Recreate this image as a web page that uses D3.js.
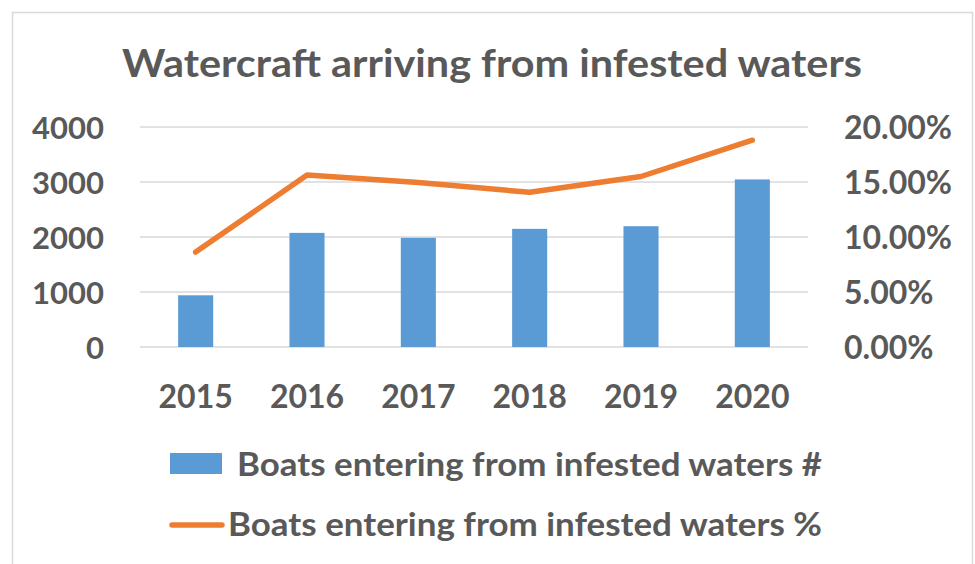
<!DOCTYPE html>
<html>
<head>
<meta charset="utf-8">
<script src="https://cdn.jsdelivr.net/npm/d3@7/dist/d3.min.js"></script>
<style>
  html, body { margin: 0; padding: 0; background: #fff; }
  svg { display: block; }
  text { font-family: Lato, "Open Sans", sans-serif; font-weight: bold; fill: #595959; }
</style>
</head>
<body>
<svg id="chart" width="975" height="564"></svg>
<script>
const years = ["2015", "2016", "2017", "2018", "2019", "2020"];
const boatsCount = [940, 2075, 1985, 2148, 2196, 3047];
const boatsPct = [0.0863, 0.1563, 0.1496, 0.1406, 0.1550, 0.1880];
const leftTicks = [0, 1000, 2000, 3000, 4000];
const rightTicks = [0, 0.05, 0.10, 0.15, 0.20];
const titleText = "Watercraft arriving from infested waters";
const seriesNames = ["Boats entering from infested waters #", "Boats entering from infested waters %"];

const svg = d3.select("#chart");
const m = { left: 140, right: 808, top: 127, bottom: 347 };

// outer frame
svg.append("rect").attr("x", 12.5).attr("y", 12.5).attr("width", 960).attr("height", 570)
  .attr("fill", "none").attr("stroke", "#D9D9D9").attr("stroke-width", 1.5);

const x = d3.scaleBand().domain(years).range([m.left, m.right]).paddingInner(0.685).paddingOuter(0.3425);
const yL = d3.scaleLinear().domain([0, 4000]).range([m.bottom, m.top]);
const yR = d3.scaleLinear().domain([0, 0.20]).range([m.bottom, m.top]);

// gridlines
svg.append("g").selectAll("line").data(leftTicks).join("line")
  .attr("x1", m.left).attr("x2", m.right)
  .attr("y1", d => yL(d)).attr("y2", d => yL(d))
  .attr("stroke", "#D9D9D9").attr("stroke-width", 1.5);

function styleText(g, size) {
  g.select(".domain").remove();
  g.selectAll("text").attr("font-size", size).attr("fill", "#595959")
    .attr("font-family", "Lato, sans-serif").attr("font-weight", "bold");
}

// left axis labels
const leftAxis = d3.axisLeft(yL).tickValues(leftTicks).tickSize(0).tickPadding(0).tickFormat(d3.format("d"));
const gL = svg.append("g").attr("transform", `translate(104,0)`).call(leftAxis);
styleText(gL, 31);
gL.selectAll("text").attr("dy", "0.36em");

// right axis labels
const rightAxis = d3.axisRight(yR).tickValues(rightTicks).tickSize(0).tickPadding(0).tickFormat(d3.format(".2%"));
const gR = svg.append("g").attr("transform", `translate(844,0)`).call(rightAxis);
styleText(gR, 32);
gR.selectAll("text").attr("dy", "0.36em");

// x axis labels
const xAxis = d3.axisBottom(x).tickSize(0).tickPadding(0);
const gX = svg.append("g").attr("transform", `translate(0,${m.bottom})`).call(xAxis);
styleText(gX, 32);
gX.selectAll("text").attr("dy", 0).attr("y", 61);

// bars
svg.append("g").selectAll("rect").data(years).join("rect")
  .attr("x", d => x(d)).attr("width", x.bandwidth())
  .attr("y", (d, i) => yL(boatsCount[i]))
  .attr("height", (d, i) => yL(0) - yL(boatsCount[i]))
  .attr("fill", "#5B9BD5");

// line
const line = d3.line().x((d, i) => x(years[i]) + x.bandwidth() / 2).y(d => yR(d));
svg.append("path").datum(boatsPct).attr("d", line)
  .attr("fill", "none").attr("stroke", "#ED7D31").attr("stroke-width", 5.5)
  .attr("stroke-linecap", "round").attr("stroke-linejoin", "round");

// title
svg.append("text").attr("x", 122).attr("y", 77)
  .attr("font-size", 39).attr("textLength", 740).attr("lengthAdjust", "spacingAndGlyphs").text(titleText);

// legend
const lg = svg.append("g");
lg.append("rect").attr("x", 170).attr("y", 453).attr("width", 52).attr("height", 21).attr("fill", "#5B9BD5");
lg.append("text").attr("x", 237).attr("y", 476).attr("font-size", 32)
  .attr("textLength", 585).attr("lengthAdjust", "spacingAndGlyphs").text(seriesNames[0]);
lg.append("line").attr("x1", 172).attr("x2", 222).attr("y1", 525).attr("y2", 525)
  .attr("stroke", "#ED7D31").attr("stroke-width", 5.5).attr("stroke-linecap", "round");
lg.append("text").attr("x", 228).attr("y", 536).attr("font-size", 32)
  .attr("textLength", 594).attr("lengthAdjust", "spacingAndGlyphs").text(seriesNames[1]);
</script>
</body>
</html>
